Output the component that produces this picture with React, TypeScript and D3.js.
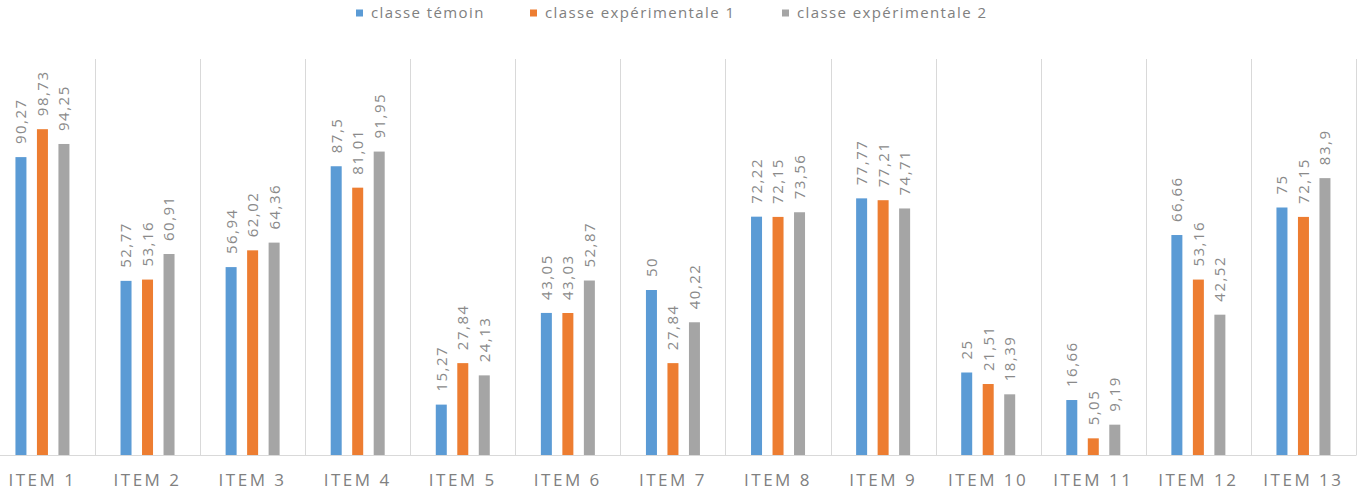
import React from "react";
import * as d3 from "d3";

const categories = ["ITEM 1","ITEM 2","ITEM 3","ITEM 4","ITEM 5","ITEM 6","ITEM 7","ITEM 8","ITEM 9","ITEM 10","ITEM 11","ITEM 12","ITEM 13"];
const seriesNames = ["classe témoin", "classe expérimentale 1", "classe expérimentale 2"];
const temoin = [90.27, 52.77, 56.94, 87.5, 15.27, 43.05, 50, 72.22, 77.77, 25, 16.66, 66.66, 75];
const exp1 = [98.73, 53.16, 62.02, 81.01, 27.84, 43.03, 27.84, 72.15, 77.21, 21.51, 5.05, 53.16, 72.15];
const exp2 = [94.25, 60.91, 64.36, 91.95, 24.13, 52.87, 40.22, 73.56, 74.71, 18.39, 9.19, 42.52, 83.9];
const seriesValues = [temoin, exp1, exp2];
const colors = ["#5B9BD5", "#ED7D31", "#A5A5A5"];

const W = 1359, H = 496;
const plotLeft = -10.1, plotRight = 1356, plotTop = 59, plotBottom = 455;
const FONT = "'Open Sans', sans-serif";

export default function App() {
  const x = d3.scaleBand<string>().domain(categories).range([plotLeft, plotRight]).padding(0);
  const y = d3.scaleLinear().domain([0, 120]).range([plotBottom, plotTop]);
  const inner = d3.scalePoint<number>().domain([0, 1, 2]).range([-21.5, 21.5]);
  const barW = 11;
  const fmt = (v: number) => String(v).replace(".", ",");

  const legendX = [356, 530, 782];

  return (
    <svg width={W} height={H} style={{ position: "absolute", left: 0, top: 0, display: "block", background: "#fff" }}>
      <rect x={0} y={0} width={W} height={H} fill="#fff" />
      {/* separators */}
      {categories.map((c, i) => {
        const xx = Math.round((x(c) as number) + x.bandwidth()) + 0.5;
        return <line key={"g" + i} x1={xx} x2={xx} y1={plotTop} y2={plotBottom} stroke="#d9d9d9" strokeWidth={1} />;
      })}
      <line x1={plotLeft} x2={plotRight + 0.5} y1={plotBottom + 0.5} y2={plotBottom + 0.5} stroke="#d9d9d9" strokeWidth={1} />
      {/* bars */}
      {seriesValues.map((vals, s) =>
        vals.map((v, i) => {
          const cx = (x(categories[i]) as number) + x.bandwidth() / 2 + (inner(s) as number);
          return (
            <rect key={`b${s}-${i}`} x={cx - barW / 2} y={y(v)} width={barW} height={y(0) - y(v)} fill={colors[s]} />
          );
        })
      )}
      {/* labels */}
      {seriesValues.map((vals, s) =>
        vals.map((v, i) => {
          const cx = (x(categories[i]) as number) + x.bandwidth() / 2 + (inner(s) as number);
          const ty = y(v) - 13;
          return (
            <text key={`l${s}-${i}`} transform={`translate(${cx},${ty}) rotate(-90)`} dy="0.36em"
              fontFamily={FONT} fontSize={15} letterSpacing={1.5} fill="#8a8a8a" textAnchor="start">
              {fmt(v)}
            </text>
          );
        })
      )}
      {/* category labels */}
      {categories.map((c, i) => (
        <text key={"c" + i} x={(x(c) as number) + x.bandwidth() / 2} y={486} textAnchor="middle"
          fontFamily={FONT} fontSize={17} letterSpacing={2.5} fill="#808080">
          {c}
        </text>
      ))}
      {/* legend */}
      {seriesNames.map((n, s) => (
        <g key={"lg" + s}>
          <rect x={legendX[s]} y={9.5} width={7} height={7} fill={colors[s]} />
          <text x={legendX[s] + 15} y={18} fontFamily={FONT} fontSize={15} letterSpacing={1.4} fill="#808080">{n}</text>
        </g>
      ))}
    </svg>
  );
}
